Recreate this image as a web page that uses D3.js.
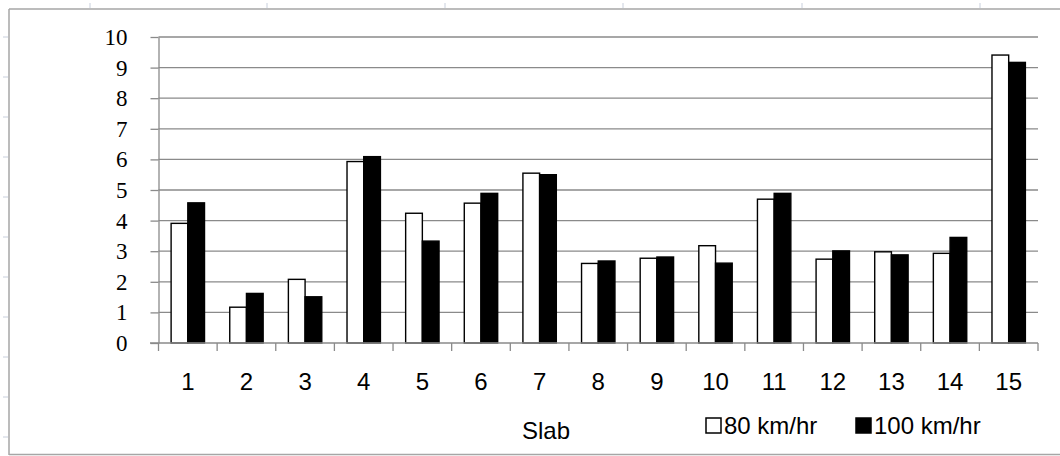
<!DOCTYPE html>
<html><head><meta charset="utf-8">
<script src="https://cdn.jsdelivr.net/npm/d3@7"></script>
<style>body{margin:0;background:#fff}svg{display:block}</style>
</head><body>
<svg id="c" width="1060" height="456"></svg>
<script>
const categories = ["1","2","3","4","5","6","7","8","9","10","11","12","13","14","15"];
const seriesNames = ["80 km/hr","100 km/hr"];
const speed80 = [3.91,1.17,2.08,5.93,4.24,4.57,5.55,2.60,2.77,3.18,4.70,2.74,2.98,2.93,9.41];
const speed100 = [4.58,1.62,1.51,6.09,3.33,4.89,5.50,2.68,2.81,2.61,4.89,3.01,2.88,3.45,9.17];
const yTicks = [0,1,2,3,4,5,6,7,8,9,10];
const xTitle = "Slab";

const svg = d3.select("#c");
const gray = "#8a8a8a";

// outer frame
svg.append("line").attr("x1",9).attr("x2",1060).attr("y1",9).attr("y2",9).attr("stroke","#a6a6a6").attr("stroke-width",1.5);
svg.append("line").attr("x1",9).attr("x2",9).attr("y1",9).attr("y2",455).attr("stroke","#a6a6a6").attr("stroke-width",1.5);
svg.append("line").attr("x1",9).attr("x2",1060).attr("y1",454.5).attr("y2",454.5).attr("stroke","#a6a6a6").attr("stroke-width",1.5);
// decorative sheet ruler ticks
[90,267,445,623,802,980].forEach(x=>svg.append("line").attr("x1",x).attr("x2",x).attr("y1",3).attr("y2",8).attr("stroke","#c8cfdc").attr("stroke-width",1));
[37,77,117,157,197,237,277,317,357,397,437].forEach(y=>svg.append("line").attr("x1",3).attr("x2",8).attr("y1",y).attr("y2",y).attr("stroke","#c8cfdc").attr("stroke-width",1));

const x0 = 158.5, x1 = 1038, yTop = 37, yBot = 343;
const x = d3.scaleBand().domain(categories).range([x0,x1]).paddingInner(0).paddingOuter(0);
const y = d3.scaleLinear().domain([0,10]).range([yBot,yTop]);
const barW = 16.7;
const xs = d3.scaleBand().domain(seriesNames).range([0, barW*2]);

// gridlines
svg.append("g").selectAll("line").data(yTicks.filter(d=>d>0)).join("line")
  .attr("x1",x0).attr("x2",x1).attr("y1",d=>y(d)).attr("y2",d=>y(d))
  .attr("stroke",gray).attr("stroke-width",1.3);

// y axis
const ya = svg.append("g").attr("transform",`translate(${x0},0)`)
  .call(d3.axisLeft(y).tickValues(yTicks).tickSize(8).tickSizeOuter(0).tickPadding(23).tickFormat(d3.format("d")));
ya.select(".domain").attr("stroke",gray).attr("stroke-width",1.3);
ya.selectAll(".tick line").attr("stroke",gray).attr("stroke-width",1.3);
ya.selectAll("text").attr("font-family","'Liberation Serif', serif").attr("font-size",23).attr("fill","#000").attr("dy","0.33em");

// bars
const data = categories.map((c,i)=>({c, vals:[speed80[i], speed100[i]]}));
const groups = svg.append("g").selectAll("g").data(data).join("g")
  .attr("transform",d=>`translate(${x(d.c)+x.bandwidth()/2-barW},0)`);
groups.selectAll("rect").data(d=>d.vals.map((v,j)=>({v,s:seriesNames[j],j}))).join("rect")
  .attr("x",d=>xs(d.s)).attr("width",xs.bandwidth())
  .attr("y",d=>y(d.v)).attr("height",d=>yBot-y(d.v))
  .attr("fill",d=>d.j===0?"#fff":"#000").attr("stroke","#000").attr("stroke-width",1.4);

// x axis
const xa = svg.append("g").attr("transform",`translate(0,${yBot})`)
  .call(d3.axisBottom(x).tickSize(0).tickPadding(30));
xa.select(".domain").remove();
svg.append("line").attr("x1",150).attr("x2",x1).attr("y1",yBot).attr("y2",yBot).attr("stroke",gray).attr("stroke-width",1.3);
const bounds = categories.map(c=>x(c)).concat([x1]);
svg.append("g").selectAll("line").data(bounds).join("line")
  .attr("x1",d=>d).attr("x2",d=>d).attr("y1",yBot).attr("y2",yBot+8)
  .attr("stroke",gray).attr("stroke-width",1.3);
xa.selectAll("text").attr("font-family","'Liberation Sans', Arial, sans-serif").attr("font-size",24).attr("fill","#000").attr("dy","0.71em");

// axis title
svg.append("text").attr("x",546).attr("y",439).attr("text-anchor","middle")
  .attr("font-family","'Liberation Sans', Arial, sans-serif").attr("font-size",24).text(xTitle);

// legend
const legX = [706, 856];
const leg = svg.append("g").selectAll("g").data(seriesNames).join("g")
  .attr("transform",(d,i)=>`translate(${legX[i]},0)`);
leg.append("rect").attr("x",0).attr("y",418).attr("width",15).attr("height",15)
  .attr("fill",(d,i)=>i===0?"#fff":"#000").attr("stroke","#000").attr("stroke-width",1.5);
leg.append("text").attr("x",18).attr("y",434)
  .attr("font-family","'Liberation Sans', Arial, sans-serif").attr("font-size",24).text(d=>d);
</script>
</body></html>
